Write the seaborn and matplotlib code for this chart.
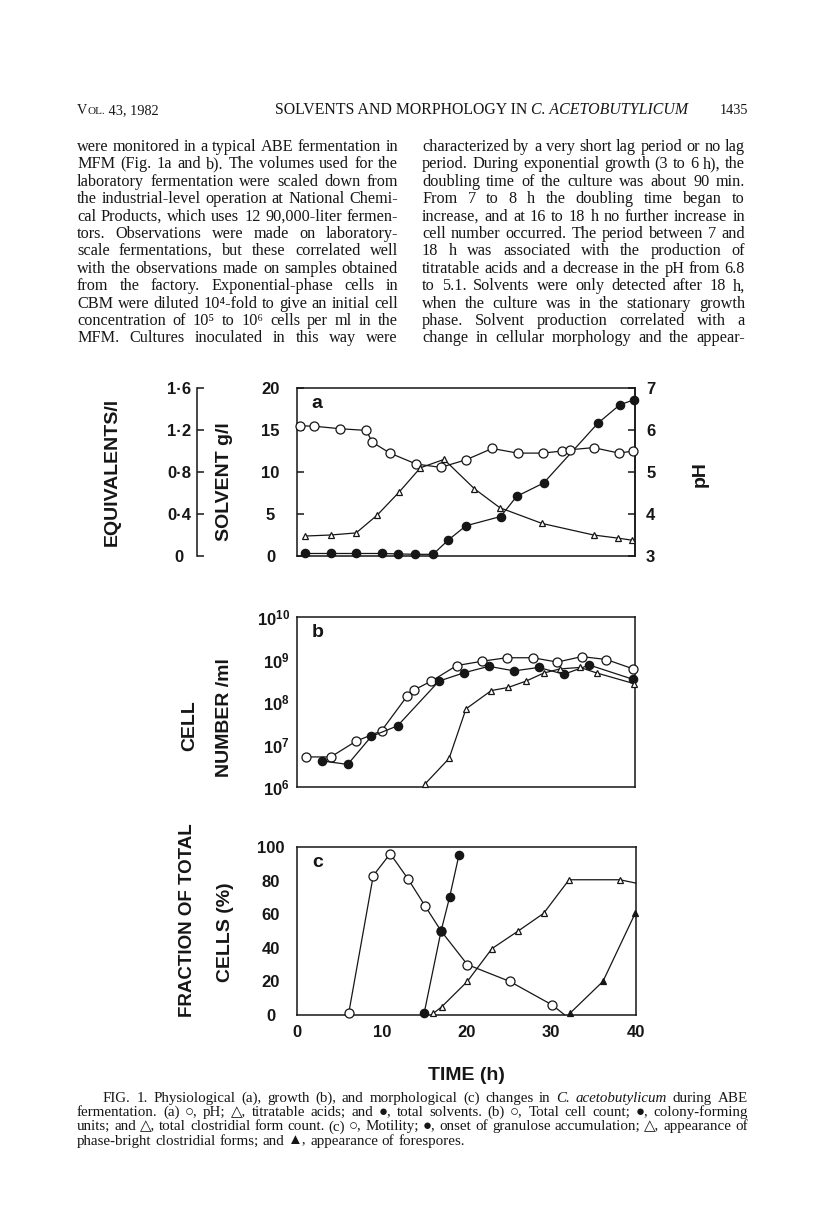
import matplotlib
matplotlib.use("Agg")
import matplotlib.pyplot as plt
import seaborn as sns
from matplotlib.transforms import IdentityTransform
from matplotlib.ticker import NullLocator

W, H = 816, 1207
SANS = ['Liberation Sans', 'DejaVu Sans']
SERIF = ['Liberation Serif', 'DejaVu Sans']
INK = '#161616'

# ---- (a) physiological changes ----
ph_hours = [0.35, 2.05, 5.1, 8.2, 8.9, 11.0, 14.1, 17.0, 20.0, 23.1, 26.1, 29.1, 31.4, 32.3, 35.1, 38.1, 39.8]
ph_values = [6.10, 6.09, 6.03, 5.99, 5.71, 5.45, 5.19, 5.11, 5.29, 5.56, 5.45, 5.45, 5.50, 5.53, 5.58, 5.45, 5.50]
acid_hours = [0.9, 4.0, 7.0, 9.5, 12.1, 14.6, 17.4, 21.0, 24.0, 29.0, 35.1, 38.0, 39.7]
acid_eq = [0.19, 0.20, 0.22, 0.39, 0.61, 0.84, 0.92, 0.64, 0.46, 0.31, 0.20, 0.17, 0.15]
solv_hours = [0.95, 4.0, 7.0, 10.0, 12.0, 14.0, 16.1, 17.9, 20.0, 24.1, 26.0, 29.2, 35.6, 38.2, 39.9]
solv_gl = [0.3, 0.3, 0.3, 0.3, 0.25, 0.2, 0.2, 1.9, 3.6, 4.7, 7.1, 8.7, 15.8, 18.0, 18.6]

# ---- (b) growth ----
total_hours = [1.1, 4.0, 7.0, 10.0, 13.0, 13.8, 15.9, 18.9, 21.9, 24.8, 27.9, 30.8, 33.7, 36.6, 39.8]
total_count = [5.1e6, 5.1e6, 1.2e7, 2.1e7, 1.35e8, 1.9e8, 3.1e8, 7.2e8, 9.1e8, 1.1e9, 1.1e9, 8.7e8, 1.17e9, 1.0e9, 6.0e8]
cfu_hours = [3.0, 6.0, 8.8, 11.9, 16.8, 19.8, 22.7, 25.7, 28.6, 31.6, 34.6, 39.8]
cfu_count = [4.1e6, 3.4e6, 1.55e7, 2.75e7, 3.1e8, 4.9e8, 6.9e8, 5.4e8, 6.5e8, 4.5e8, 7.4e8, 3.4e8]
clos_hours = [15.1, 18.0, 20.0, 23.0, 25.0, 27.1, 29.2, 31.1, 33.5, 35.5, 39.9]
clos_count = [1.15e6, 4.7e6, 6.9e7, 1.86e8, 2.2e8, 3.1e8, 4.8e8, 6.0e8, 6.5e8, 4.8e8, 2.7e8]

# ---- (c) morphological changes (% of total cells) ----
motil_hours = [6.1, 9.0, 11.0, 13.1, 15.1, 17.0, 20.1, 25.1, 30.1, 31.6]
motil_pct = [1, 83, 96, 81, 65, 50, 30, 20, 6, 0]
gran_hours = [15.0, 17.0, 18.0, 19.1]
gran_pct = [1, 50, 70, 95]
bright_hours = [16.1, 17.1, 20.1, 23.0, 26.1, 29.1, 32.1, 38.1, 40.0]
bright_pct = [1, 5, 20, 39.5, 50, 60.5, 80.5, 80.5, 78.5]
spore_hours = [32.2, 36.1, 39.9]
spore_pct = [1, 20, 60.5]

eq_ticks = [0, 0.4, 0.8, 1.2, 1.6]
eq_labels = ['0', '0·4', '0·8', '1·2', '1·6']

left_col = [
    "were monitored in a typical ABE fermentation in",
    "MFM (Fig. 1a and b). The volumes used for the",
    "laboratory fermentation were scaled down from",
    "the industrial-level operation at National Chemi-",
    "cal Products, which uses 12 90,000-liter fermen-",
    "tors. Observations were made on laboratory-",
    "scale fermentations, but these correlated well",
    "with the observations made on samples obtained",
    "from the factory. Exponential-phase cells in",
    "CBM were diluted 10⁴-fold to give an initial cell",
    "concentration of 10⁵ to 10⁶ cells per ml in the",
    "MFM. Cultures inoculated in this way were",
]
right_col = [
    "characterized by a very short lag period or no lag",
    "period. During exponential growth (3 to 6 h), the",
    "doubling time of the culture was about 90 min.",
    "From 7 to 8 h the doubling time began to",
    "increase, and at 16 to 18 h no further increase in",
    "cell number occurred. The period between 7 and",
    "18 h was associated with the production of",
    "titratable acids and a decrease in the pH from 6.8",
    "to 5.1. Solvents were only detected after 18 h,",
    "when the culture was in the stationary growth",
    "phase. Solvent production correlated with a",
    "change in cellular morphology and the appear-",
]
caption = [
    "FIG. 1. Physiological (a), growth (b), and morphological (c) changes in _C._ _acetobutylicum_ during ABE",
    "fermentation. (a) ○, pH; △, titratable acids; and ●, total solvents. (b) ○, Total cell count; ●, colony-forming",
    "units; and △, total clostridial form count. (c) ○, Motility; ●, onset of granulose accumulation; △, appearance of",
    "phase-bright clostridial forms; and ▲, appearance of forespores.",
]

sns.set_style('white')
plt.rcParams['font.family'] = SANS
plt.rcParams['font.weight'] = 'bold'
plt.rcParams['mathtext.fontset'] = 'custom'
plt.rcParams['mathtext.rm'] = 'Liberation Sans:bold'
plt.rcParams['mathtext.it'] = 'Liberation Sans:bold'
plt.rcParams['mathtext.bf'] = 'Liberation Sans:bold'
plt.rcParams['axes.linewidth'] = 1.1
plt.rcParams['axes.edgecolor'] = INK

fig = plt.figure(figsize=(W / 100, H / 100), dpi=100)
fig.patch.set_facecolor('white')


def box(x0, y0, x1, y1):
    return [x0 / W, 1 - y1 / H, (x1 - x0) / W, (y1 - y0) / H]


def curve(ax, x, y, marker, ms, fill, every=None):
    sns.lineplot(x=x, y=y, ax=ax, color=INK, lw=0.9, marker=marker, markersize=ms,
                 markerfacecolor=fill, markeredgecolor=INK, markeredgewidth=0.9,
                 markevery=every, clip_on=False, zorder=3, sort=False)


def style_ticks(ax, axis, pad, center=False, size=12):
    ax.tick_params(axis=axis, direction='in', length=5, width=1.1, pad=pad,
                   labelsize=size, colors=INK)
    if center:
        labs = ax.get_yticklabels() if axis == 'y' else ax.get_xticklabels()
        plt.setp(labs, ha='center')


ax_a = fig.add_axes(box(297, 388, 635, 556))
ax_b = fig.add_axes(box(297, 617, 635, 787))
ax_c = fig.add_axes(box(297, 847, 636, 1015))

# ---- panel a ----
ax_ph = ax_a.twinx()
ax_eq = ax_a.twinx()
ax_a.set_xlim(0, 40)
ax_a.set_ylim(0, 20)
ax_ph.set_ylim(3, 7)
ax_eq.set_ylim(0, 1.6)

curve(ax_a, solv_hours, solv_gl, 'o', 6, INK)
curve(ax_ph, ph_hours, ph_values, 'o', 6.5, 'white')
curve(ax_eq, acid_hours, acid_eq, '^', 4.5, 'white')

ax_a.set_xticks([10, 20, 30])
ax_a.tick_params(axis='x', direction='in', length=5, width=1.1, labelbottom=False)
ax_a.set_yticks([0, 5, 10, 15, 20])
style_ticks(ax_a, 'y', 19, center=True)

ax_ph.set_yticks([3, 4, 5, 6, 7])
style_ticks(ax_ph, 'y', 8)
for s in ['left', 'top', 'bottom']:
    ax_ph.spines[s].set_visible(False)

for s in ['right', 'top', 'bottom']:
    ax_eq.spines[s].set_visible(False)
ax_eq.spines['left'].set_visible(True)
ax_eq.spines['left'].set_position(('outward', 72))
ax_eq.yaxis.tick_left()
ax_eq.set_yticks(eq_ticks)
ax_eq.set_yticklabels(eq_labels)
style_ticks(ax_eq, 'y', 13, center=True)

for a in (ax_a, ax_ph, ax_eq):
    a.set_xlabel('')
    a.set_ylabel('')
ax_a.text(0.044, 0.91, 'a', transform=ax_a.transAxes, fontsize=14, color=INK, va='center')

# ---- panel b ----
ax_b.set_yscale('log')
ax_b.set_xlim(0, 40)
ax_b.set_ylim(1e6, 1e10)
curve(ax_b, total_hours, total_count, 'o', 6.5, 'white')
curve(ax_b, cfu_hours, cfu_count, 'o', 6, INK)
curve(ax_b, clos_hours, clos_count, '^', 4.5, 'white')
ax_b.set_yticks([1e6, 1e7, 1e8, 1e9, 1e10])
ax_b.set_yticklabels([r'$10^{6}$', r'$10^{7}$', r'$10^{8}$', r'$10^{9}$', r'$10^{10}$'])
ax_b.yaxis.set_minor_locator(NullLocator())
style_ticks(ax_b, 'y', 5)
ax_b.set_xticks([10, 20, 30])
ax_b.tick_params(axis='x', direction='in', length=5, width=1.1, labelbottom=False)
ax_b.set_xlabel('')
ax_b.set_ylabel('')
ax_b.text(0.044, 0.91, 'b', transform=ax_b.transAxes, fontsize=14, color=INK, va='center')

# ---- panel c ----
ax_c.set_xlim(0, 40)
ax_c.set_ylim(0, 100)
curve(ax_c, motil_hours, motil_pct, 'o', 6.5, 'white', every=list(range(9)))
curve(ax_c, gran_hours, gran_pct, 'o', 6, INK)
curve(ax_c, bright_hours, bright_pct, '^', 4.5, 'white', every=list(range(8)))
curve(ax_c, spore_hours, spore_pct, '^', 5, INK)
ax_c.set_yticks([0, 20, 40, 60, 80, 100])
style_ticks(ax_c, 'y', 19, center=True)
ax_c.set_xticks([0, 10, 20, 30, 40])
style_ticks(ax_c, 'x', 7)
ax_c.set_xlabel('')
ax_c.set_ylabel('')
ax_c.text(0.044, 0.91, 'c', transform=ax_c.transAxes, fontsize=14, color=INK, va='center')


# ---- axis titles ----
def ftext(x, y, s, **kw):
    kw.setdefault('fontsize', 14)
    fig.text(x / W, 1 - y / H, s, ha='center', va='center', color=INK, **kw)


ftext(112, 472, 'EQUIVALENTS/l', rotation=90)
ftext(224, 482, 'SOLVENT g/l', rotation=90)
ftext(700, 474, 'pH', rotation=90)
ftext(190, 726, 'CELL', rotation=90)
ftext(224, 718, 'NUMBER /ml', rotation=90)
ftext(188, 920, 'FRACTION OF TOTAL', rotation=90, fontsize=13.5)
ftext(225, 932, 'CELLS (%)', rotation=90)
ftext(466, 1076, 'TIME (h)')

# ---- page text ----
renderer = fig.canvas.get_renderer()


def measure(s, size, style='normal'):
    t = fig.text(0, 0, s, fontsize=size, family=SERIF, weight='normal', style=style,
                 transform=IdentityTransform())
    w = t.get_window_extent(renderer).width
    t.remove()
    return w


def fit_size(lines, width, indents=None, base=10.0):
    sizes = []
    for i, line in enumerate(lines):
        ind = indents[i] if indents else 0
        sizes.append(base * (width - ind) / measure(line.replace('_', ''), base))
    return min(sizes) * 0.99


def set_line(line, x0, x1, y, size, justify=True, indent=0.0):
    objs = []
    for w in line.split():
        italic = len(w) > 2 and w.startswith('_') and w.endswith('_')
        s = w[1:-1] if italic else w
        objs.append(fig.text(0, 0, s, fontsize=size, family=SERIF, weight='normal',
                             style='italic' if italic else 'normal', color=INK,
                             va='baseline', transform=IdentityTransform()))
    widths = [t.get_window_extent(renderer).width for t in objs]
    if justify and len(objs) > 1:
        gap = (x1 - x0 - indent - sum(widths)) / (len(objs) - 1)
    else:
        gap = size * 100 / 72 * 0.25
    x = x0 + indent
    for t, w in zip(objs, widths):
        t.set_position((x, H - y))
        x += w + gap


def run(pieces, x, y):
    for s, size, style in pieces:
        t = fig.text(x, H - y, s, fontsize=size, family=SERIF, weight='normal', style=style,
                     color=INK, va='baseline', transform=IdentityTransform())
        x += t.get_window_extent(renderer).width
    return x


# running header
run([('V', 10.3, 'normal'), ('OL.', 8, 'normal'), (' 43, 1982', 10.3, 'normal')], 77, 114)
title = [('SOLVENTS AND MORPHOLOGY IN ', 10, 'normal'), ('C. ACETOBUTYLICUM', 10, 'italic')]
tw = sum(measure(s, sz, st) for s, sz, st in title)
k = (689 - 275) / tw
run([(s, sz * k, st) for s, sz, st in title], 275, 114)
fig.text(748, H - 114, '1435', fontsize=10.3, family=SERIF, weight='normal', color=INK,
         ha='right', va='baseline', transform=IdentityTransform())

body_size = min(fit_size(left_col, 398 - 77), fit_size(right_col, 745 - 422))
for i, line in enumerate(left_col):
    set_line(line, 77, 398, 151 + 17.4 * i, body_size)
for i, line in enumerate(right_col):
    set_line(line, 422, 745, 151 + 17.4 * i, body_size)

cap_size = fit_size(caption[:-1], 748 - 77, indents=[26, 0, 0])
for i, line in enumerate(caption):
    set_line(line, 77, 748, 1102 + 14.2 * i, cap_size,
             justify=(i < len(caption) - 1), indent=(26 if i == 0 else 0))

fig.savefig('out.png', dpi=100, facecolor='white')
